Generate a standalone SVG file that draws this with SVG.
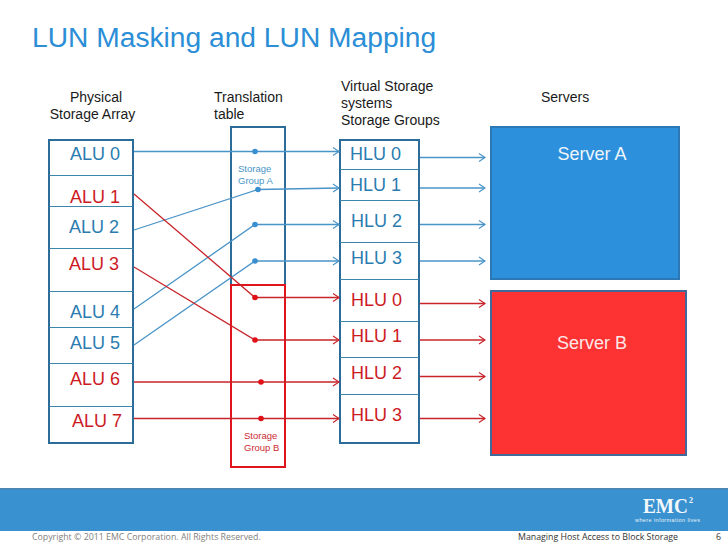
<svg xmlns="http://www.w3.org/2000/svg" width="728" height="546" viewBox="0 0 728 546">
<style>
text{font-family:"Liberation Sans",Arial,sans-serif}
.h{font-size:14px;fill:#1a1a1a}
.b{fill:#2a7cb0;font-size:18px}
.r{fill:#cc1a1f;font-size:18px}
.box{fill:#fff;stroke:#2c6c99;stroke-width:2}
.div{stroke:#3d85ad;stroke-width:1;fill:none}
.cb{stroke:#4a94c8;stroke-width:1.3;fill:none}
.cr{stroke:#c8242a;stroke-width:1.3;fill:none}
.ab{marker-end:url(#ab)}
.ar{marker-end:url(#ar)}
.db{fill:#3a8fd0}
.dr{fill:#e01018}
.foot{font-family:"Open Sans","Noto Sans",sans-serif;font-size:8.8px}
.sg{font-size:9.5px}
.logo{font-family:"Liberation Serif",serif;font-weight:bold;fill:#f2f8fc}
</style>
<defs>
<marker id="ab" markerUnits="userSpaceOnUse" markerWidth="8" markerHeight="10" refX="7" refY="5" orient="auto"><path d="M1 1L7 5L1 9" fill="none" stroke="#4a94c8" stroke-width="1.2"/></marker>
<marker id="ar" markerUnits="userSpaceOnUse" markerWidth="8" markerHeight="10" refX="7" refY="5" orient="auto"><path d="M1 1L7 5L1 9" fill="none" stroke="#c8242a" stroke-width="1.2"/></marker>
</defs>
<rect width="728" height="546" fill="#fff"/>
<text x="32" y="47" font-size="28.2" fill="#2b8ed6" id="title">LUN Masking and LUN Mapping</text>
<g id="headers">
<text class="h" x="96" y="102" text-anchor="middle">Physical</text>
<text class="h" x="92.500" y="119" text-anchor="middle">Storage Array</text>
<text class="h" x="214" y="102">Translation</text>
<text class="h" x="214" y="119">table</text>
<text class="h" x="341" y="91">Virtual Storage</text>
<text class="h" x="341" y="108">systems</text>
<text class="h" x="341" y="125">Storage Groups</text>
<text class="h" x="541" y="102">Servers</text>
</g>
<g id="physical-array">
<rect class="box" x="49" y="140" width="84" height="303"/>
<path class="div" d="M49 175.500H133M49 206.500H133M49 248.500H133M49 291.500H133M49 327.500H133M49 363.500H133M49 406.500H133"/>
<text class="b" x="70" y="160">ALU 0</text>
<text class="r" x="70" y="203">ALU 1</text>
<text class="b" x="69" y="233">ALU 2</text>
<text class="r" x="69" y="270">ALU 3</text>
<text class="b" x="70" y="318">ALU 4</text>
<text class="b" x="70" y="349">ALU 5</text>
<text class="r" x="70" y="385">ALU 6</text>
<text class="r" x="72" y="427">ALU 7</text>
</g>
<g id="translation-table">
<rect x="231" y="127" width="54" height="158" fill="#fff" stroke="#2c6c99" stroke-width="2"/>
<rect x="231" y="285" width="54" height="182" fill="#fff" stroke="#e0141c" stroke-width="2"/>
<text class="sg" x="238" y="171.500" fill="#4a94c8">Storage</text>
<text class="sg" x="238" y="183.500" fill="#4a94c8">Group A</text>
<text class="sg" x="244" y="438.500" fill="#cc2a30">Storage</text>
<text class="sg" x="244" y="450.500" fill="#cc2a30">Group B</text>
</g>
<g id="virtual-storage">
<rect class="box" x="340" y="140" width="79" height="303"/>
<path class="div" d="M340 169.500H419M340 200.500H419M340 242.500H419M340 279.500H419M340 321.500H419M340 357.500H419M340 394.500H419"/>
<text class="b" x="350" y="160">HLU 0</text>
<text class="b" x="350" y="191">HLU 1</text>
<text class="b" x="351" y="227">HLU 2</text>
<text class="b" x="351" y="264">HLU 3</text>
<text class="r" x="351" y="306">HLU 0</text>
<text class="r" x="351" y="342">HLU 1</text>
<text class="r" x="351" y="379">HLU 2</text>
<text class="r" x="351" y="421">HLU 3</text>
</g>
<g id="server-a">
<rect x="491" y="127" width="188" height="152" fill="#2d90dc" stroke="#2c78b4" stroke-width="2"/>
<text x="592" y="160" font-size="18" fill="#eef6fc" text-anchor="middle" id="server-a-label">Server A</text>
</g>
<g id="server-b">
<rect x="491" y="291" width="195" height="164" fill="#fd3232" stroke="#3f6a99" stroke-width="2"/>
<text x="592" y="349" font-size="18" fill="#fde8e8" text-anchor="middle">Server B</text>
</g>
<g id="connectors">
<path class="cb ab" d="M134 151.500H339"/>
<path class="cb ab" d="M134 230L258 189.500L339 188"/>
<path class="cb ab" d="M134 309L255 224.500H339"/>
<path class="cb ab" d="M134 345L255 261H339"/>
<path class="cr ar" d="M134 194L255 297.500H339"/>
<path class="cr ar" d="M134 267L255 340H339"/>
<path class="cr ar" d="M134 382H339"/>
<path class="cr ar" d="M134 418.500H339"/>
<path class="cb ab" d="M420 157.500H485"/>
<path class="cb ab" d="M420 188H485"/>
<path class="cb ab" d="M420 224.500H485"/>
<path class="cb ab" d="M420 261H485"/>
<path class="cr ar" d="M420 303.500H485"/>
<path class="cr ar" d="M420 340H485"/>
<path class="cr ar" d="M420 376.500H485"/>
<path class="cr ar" d="M420 418.500H485"/>
<circle class="db" cx="255" cy="151.500" r="2.800"/>
<circle class="db" cx="258" cy="189.500" r="2.800"/>
<circle class="db" cx="255" cy="224.500" r="2.800"/>
<circle class="db" cx="255" cy="261" r="2.800"/>
<circle class="dr" cx="255" cy="297.500" r="2.800"/>
<circle class="dr" cx="255" cy="340" r="2.800"/>
<circle class="dr" cx="261" cy="382" r="2.800"/>
<circle class="dr" cx="261" cy="418.500" r="2.800"/>
</g>
<g id="footer">
<rect x="0" y="488" width="728" height="43" fill="#3a91d0"/>
<rect x="0" y="488" width="728" height="1.500" fill="#4a86b0"/>
<text x="32" y="540" class="foot" fill="#7f7f7f">Copyright © 2011 EMC Corporation. All Rights Reserved.</text>
<text x="518" y="540" class="foot" fill="#333">Managing Host Access to Block Storage</text>
<text x="716" y="540" class="foot" fill="#333">6</text>
<text x="643" y="513" font-size="20" textLength="45" lengthAdjust="spacingAndGlyphs" class="logo">EMC</text>
<text x="689" y="503" font-size="8" class="logo">2</text>
<text x="635" y="522" font-size="5.500" fill="#e8f2fa" textLength="65">where information lives</text>
</g>
</svg>
